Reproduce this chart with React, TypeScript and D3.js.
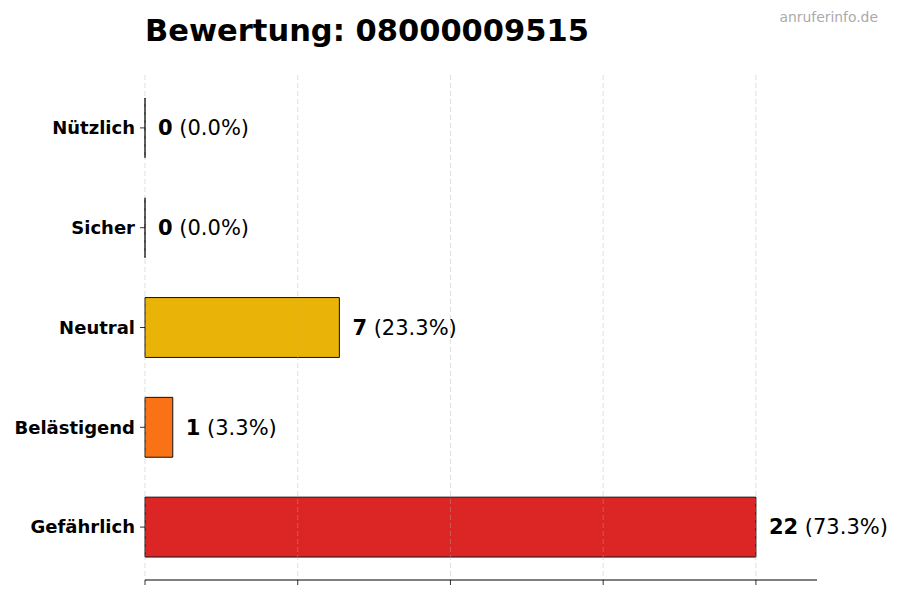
import React from 'react';
import { scaleLinear } from 'd3';

// data
const categories = ['Nützlich', 'Sicher', 'Neutral', 'Belästigend', 'Gefährlich'];
const counts = [0, 0, 7, 1, 22];
const colors = ['#16a34a', '#22c55e', '#eab308', '#f97316', '#dc2626'];
const xTicks = [0, 5.5, 11, 16.5, 22];
const title = 'Bewertung: 08000009515';
const watermark = 'anruferinfo.de';

const W = 900;
const H = 600;
const margin = { left: 145, right: 83, top: 75, bottom: 20 };
const font = '"DejaVu Sans", sans-serif';

export default function App() {
  const total = counts.reduce((a, b) => a + b, 0);
  const maxVal = Math.max(...counts);

  const x = scaleLinear()
    .domain([0, maxVal * 1.1])
    .range([margin.left, W - margin.right]);

  // matplotlib-like band: bar height 0.6, 5% margins
  const n = categories.length;
  const pad = 0.3 + (n - 1 + 0.6) * 0.05;
  const y = scaleLinear()
    .domain([-pad, n - 1 + pad])
    .range([margin.top, H - margin.bottom]);
  const barH = y(0.6) - y(0);

  const [y0, y1] = y.range();

  return (
    <svg width={W} height={H} style={{ position: 'absolute', left: 0, top: 0, background: '#fff' }} fontFamily={font}>
      <text x={margin.left} y={41} fontSize={30.5} fontWeight="bold" fill="#000">{title}</text>
      <text x={878} y={22} fontSize={13.9} fill="#aaaaaa" textAnchor="end">{watermark}</text>

      {/* bars (path so zero-width bars still show their edge) */}
      {categories.map((c, i) => {
        const bx = x(0);
        const by = y(i) - barH / 2;
        const bw = Math.max(0, x(counts[i]) - x(0));
        return (
          <path
            key={c}
            d={`M${bx},${by}h${bw}v${barH}h${-bw}Z`}
            fill={colors[i]}
            stroke="#111"
            strokeWidth={1}
          />
        );
      })}

      {/* grid on top, faint */}
      {xTicks.map(t => (
        <line key={t} x1={x(t)} x2={x(t)} y1={y0} y2={y1} stroke="#b0b0b0" strokeOpacity={0.5} strokeDasharray="5,3" strokeWidth={0.8} />
      ))}

      {/* value labels */}
      {categories.map((c, i) => (
        <text key={c} x={x(counts[i]) + 13} y={y(i)} dy="0.35em" fontSize={21} fill="#000">
          <tspan fontWeight="bold">{counts[i]}</tspan>
          <tspan>{` (${(total ? (counts[i] / total) * 100 : 0).toFixed(1)}%)`}</tspan>
        </text>
      ))}

      {/* y tick labels */}
      {categories.map((c, i) => (
        <g key={c}>
          <line x1={x(0) - 5} x2={x(0)} y1={y(i)} y2={y(i)} stroke="#000" strokeWidth={0.8} />
          <text x={x(0) - 10} y={y(i)} dy="0.35em" textAnchor="end" fontSize={18} fontWeight="bold" fill="#000">{c}</text>
        </g>
      ))}

      {/* bottom spine */}
      <line x1={x.range()[0]} x2={x.range()[1]} y1={y1} y2={y1} stroke="#000" strokeWidth={1} />
      {xTicks.map(t => (
        <line key={t} x1={x(t)} x2={x(t)} y1={y1} y2={y1 + 5} stroke="#000" strokeWidth={0.8} />
      ))}
    </svg>
  );
}
